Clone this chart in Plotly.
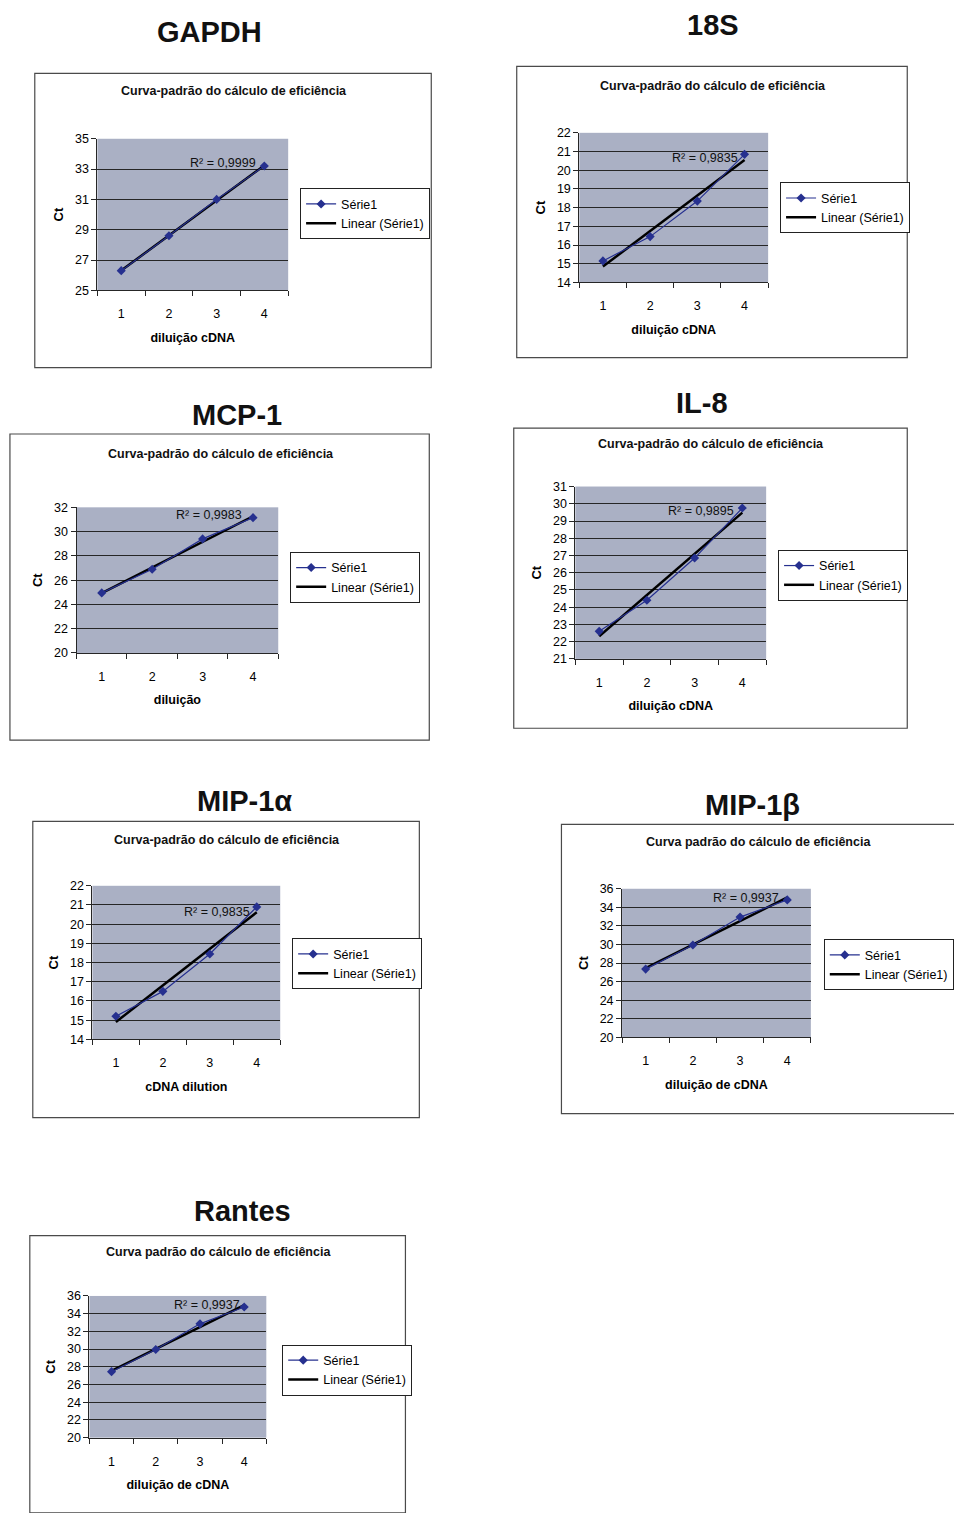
import numpy as np
import plotly.graph_objects as go

W, H = 954, 1513

# ---------------- data ----------------
dilution = [1, 2, 3, 4]
gapdh_ct = [26.3, 28.6, 31.0, 33.2]
s18_ct = [15.15, 16.45, 18.35, 20.85]
mcp1_ct = [24.95, 26.9, 29.4, 31.15]
il8_ct = [22.6, 24.4, 26.85, 29.75]
mip1a_ct = [15.2, 16.5, 18.45, 20.9]
mip1b_ct = [27.35, 29.95, 32.95, 34.8]
rantes_ct = [27.45, 29.95, 32.85, 34.75]

genes = ["GAPDH", "18S", "MCP-1", "IL-8", "MIP-1α", "MIP-1β", "Rantes"]
ct_values = [gapdh_ct, s18_ct, mcp1_ct, il8_ct, mip1a_ct, mip1b_ct, rantes_ct]
chart_titles = ["Curva-padrão do cálculo de eficiência"] * 5 + ["Curva padrão do cálculo de eficiência"] * 2
x_titles = ["diluição cDNA", "diluição cDNA", "diluição", "diluição cDNA",
            "cDNA dilution", "diluição de cDNA", "diluição de cDNA"]
r2_labels = ["0,9999", "0,9835", "0,9983", "0,9895", "0,9835", "0,9937", "0,9937"]
y_ranges = [(25, 35), (14, 22), (20, 32), (21, 31), (14, 22), (20, 36), (20, 36)]
y_steps = [2, 1, 2, 1, 1, 2, 2]

# ---------------- geometry (pixels) ----------------
geom = [
    dict(box=(35, 67, 434, 364), plot=(98, 133, 290, 286), head=(211, 25), ctitle=(235, 85), leg=(302, 183), r2=(0.656, 0.837)),
    dict(box=(520, 60, 913, 354), plot=(583, 127, 773, 278), head=(718, 18), ctitle=(718, 80), leg=(785, 177), r2=(0.663, 0.834)),
    dict(box=(10, 431, 432, 740), plot=(77, 505, 280, 652), head=(238, 412), ctitle=(222, 451), leg=(292, 550), r2=(0.655, 0.946)),
    dict(box=(517, 425, 913, 728), plot=(579, 484, 771, 658), head=(706, 400), ctitle=(715, 441), leg=(783, 548), r2=(0.661, 0.856)),
    dict(box=(33, 822, 422, 1121), plot=(93, 887, 282, 1042), head=(246, 801), ctitle=(228, 841), leg=(294, 940), r2=(0.661, 0.832)),
    dict(box=(565, 825, 962, 1117), plot=(626, 890, 816, 1040), head=(757, 805), ctitle=(763, 843), leg=(829, 941), r2=(0.658, 0.94)),
    dict(box=(30, 1240, 408, 1520), plot=(90, 1301, 268, 1444), head=(244, 1215), ctitle=(220, 1257), leg=(284, 1350), r2=(0.663, 0.937)),
]

FONT = "Liberation Sans, Arial, sans-serif"
NAVY = "#26308f"
GRID = "#262626"

fig = go.Figure()
shapes, annotations = [], []
layout = dict(
    width=W, height=H, margin=dict(l=0, r=0, t=0, b=0),
    paper_bgcolor="white", plot_bgcolor="#aab0c4",
    font=dict(family=FONT, color="black"),
)


def px(x):
    return x / W


def py(y):
    return 1 - y / H


for i, g in enumerate(geom):
    n = i + 1
    xa = "x" if n == 1 else f"x{n}"
    ya = "y" if n == 1 else f"y{n}"
    leg = "legend" if n == 1 else f"legend{n}"
    ys = ct_values[i]

    # linear trendline computed from the series (Excel "Linear" trendline)
    slope, inter = np.polyfit(dilution, ys, 1)
    xt = [dilution[0], dilution[-1]]
    yt = [slope * v + inter for v in xt]

    fig.add_trace(go.Scatter(
        x=xt, y=yt, mode="lines", name="Linear (Série1)",
        line=dict(color="black", width=2.5), xaxis=xa, yaxis=ya,
        legend=leg, legendrank=2, hoverinfo="skip"))
    fig.add_trace(go.Scatter(
        x=dilution, y=ys, mode="lines+markers", name="Série1",
        line=dict(color=NAVY, width=1.2),
        marker=dict(symbol="diamond", size=7, color=NAVY),
        xaxis=xa, yaxis=ya, legend=leg, legendrank=1))

    x0, y0, x1, y1 = g["plot"]
    ymin, ymax = y_ranges[i]
    layout["xaxis" if n == 1 else f"xaxis{n}"] = dict(
        domain=[px(x0), px(x1)], anchor=ya, range=[0.5, 4.5],
        tickmode="array", tickvals=dilution, ticktext=[str(v) for v in dilution],
        ticks="", showgrid=False, zeroline=False,
        showline=True, linecolor=GRID, linewidth=1,
        minor=dict(tickmode="array", tickvals=[0.5, 1.5, 2.5, 3.5, 4.5],
                   ticks="outside", ticklen=5, tickcolor=GRID, showgrid=False),
        ticklabelstandoff=12,
        tickfont=dict(size=12.5, family=FONT, color="black"),
        title=dict(text=f"<b>{x_titles[i]}</b>", standoff=12,
                   font=dict(size=12.5, family=FONT, color="black")),
        fixedrange=True,
    )
    layout["yaxis" if n == 1 else f"yaxis{n}"] = dict(
        domain=[py(y1), py(y0)], anchor=xa, range=[ymin, ymax],
        tick0=ymin, dtick=y_steps[i],
        showgrid=True, gridcolor=GRID, gridwidth=1, zeroline=False,
        showline=True, linecolor=GRID, linewidth=1,
        ticks="outside", ticklen=5, tickcolor=GRID,
        tickfont=dict(size=12.5, family=FONT, color="black"),
        title=dict(text="<b>Ct</b>", standoff=8,
                   font=dict(size=13, family=FONT, color="black")),
        fixedrange=True,
    )

    lx, ly = g["leg"]
    layout[leg] = dict(
        x=px(lx), y=py(ly), xref="paper", yref="paper",
        xanchor="left", yanchor="top",
        bgcolor="white", bordercolor="#222", borderwidth=1,
        font=dict(size=12.5, family=FONT, color="black"),
        itemwidth=30, traceorder="normal",
    )

    bx0, by0, bx1, by1 = g["box"]
    shapes.append(dict(type="rect", xref="paper", yref="paper",
                       x0=px(bx0), x1=px(bx1), y0=py(by1), y1=py(by0),
                       line=dict(color="#4a4a4a", width=1.2),
                       fillcolor="rgba(0,0,0,0)", layer="below"))

    hx, hy = g["head"]
    annotations.append(dict(text=f"<b>{genes[i]}</b>", x=px(hx), y=py(hy),
                            xref="paper", yref="paper", showarrow=False,
                            xanchor="center", yanchor="middle",
                            font=dict(size=29, family=FONT, color="#111")))
    cx, cy = g["ctitle"]
    annotations.append(dict(text=f"<b>{chart_titles[i]}</b>", x=px(cx), y=py(cy),
                            xref="paper", yref="paper", showarrow=False,
                            xanchor="center", yanchor="middle",
                            font=dict(size=12.5, family=FONT, color="#111")))
    rx, ry = g["r2"]
    annotations.append(dict(text=f"R² = {r2_labels[i]}", x=rx, y=ry,
                            xref=f"{xa} domain", yref=f"{ya} domain", showarrow=False,
                            xanchor="center", yanchor="middle",
                            font=dict(size=12.5, family=FONT, color="#111")))

layout["shapes"] = shapes
layout["annotations"] = annotations
fig.update_layout(**layout)
fig.write_html("out.html")
